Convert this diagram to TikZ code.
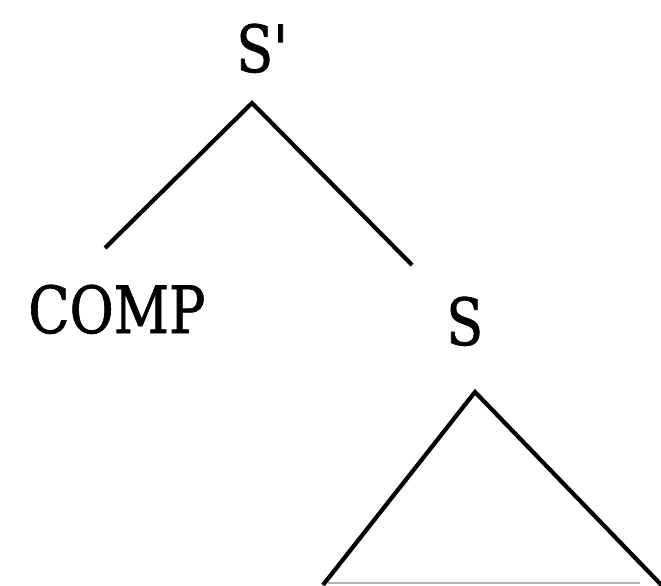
\documentclass[tikz,border=0pt]{standalone}
\usepackage{fontspec}
\newfontfamily\treefont{DejaVu Serif}[BoldFont=DejaVu Serif, BoldFeatures={FakeBold=1.2}]
\usetikzlibrary{positioning}

\begin{document}
\begin{tikzpicture}[
  x=0.02cm, y=-0.02cm,
  lbl/.style={inner sep=0pt, font=\treefont\bfseries\fontsize{37}{40}\selectfont, xscale=0.83, transform shape},
  edge/.style={line width=2.4pt, line join=miter}
]
  \useasboundingbox (0,0) rectangle (661,585);
  \clip (0,0) rectangle (661,585);

  \node[lbl, anchor=base west] (sp)   at (236,72)  {S\textquotesingle};
  \node[lbl, anchor=base west] (comp) at (28,333)  {COMP};
  \node[lbl, anchor=base west] (s)    at (446,345) {S};

  \coordinate (sptop) at (252,103);
  \coordinate (compend) at (105,248);
  \coordinate (send) at (412,265);
  \coordinate (stop) at (475,392);
  \coordinate (tril) at (323,585);
  \coordinate (trir) at (672,596);

  \draw[edge] (compend) -- (sptop) -- (send);
  \draw[edge] (tril) -- (stop) -- (trir);
  \draw[gray!60, line width=1pt] (328,583) -- (640,583);
\end{tikzpicture}
\end{document}
